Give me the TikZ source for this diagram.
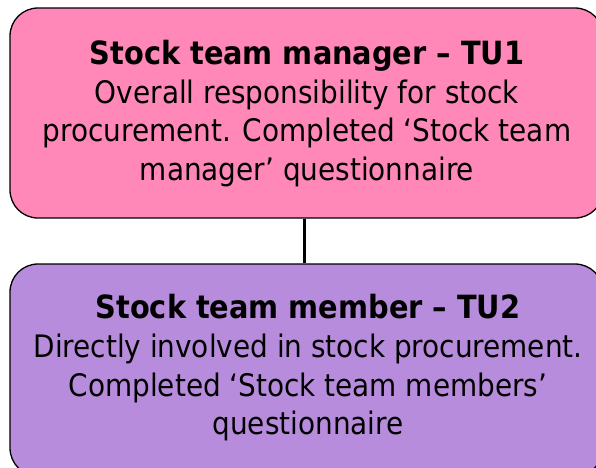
\documentclass[tikz,border=0pt]{standalone}
\usepackage{fontspec}
\setmainfont{DejaVu Sans Condensed}
\usetikzlibrary{positioning}
\definecolor{mgrpink}{RGB}{255,136,185}
\definecolor{mbrlilac}{RGB}{184,140,220}

\begin{document}
\begin{tikzpicture}[x=1pt, y=-1pt,
    unitbox/.style={draw=black, line width=1.3pt, rounded corners=28pt,
                    minimum width=593pt, inner sep=0pt},
    unittext/.style={align=center, font=\fontsize{31}{38.7}\selectfont, inner sep=0pt},
    link/.style={draw=black, line width=3.5pt}]
  \useasboundingbox (0,0) rectangle (596,467);
  \clip (0,0) rectangle (596,467);

  % Boxes
  \node[unitbox, fill=mgrpink, minimum height=210pt] (mgr) at (306.5,113) {};
  \node[unitbox, fill=mbrlilac, minimum height=212pt] (mbr) at (306.5,370) {};

  % Texts
  \node[unittext] (mgrtext) at (307,113.5)
    {{\fontsize{32}{38.7}\selectfont\bfseries Stock team manager -- TU1}\\
     Overall responsibility for stock\\
     procurement. Completed `Stock team\\
     manager' questionnaire};
  \node[unittext] (mbrtext) at (308,368)
    {{\fontsize{32}{38.7}\selectfont\bfseries Stock team member -- TU2}\\
     Directly involved in stock procurement.\\
     Completed `Stock team members'\\
     questionnaire};

  % Connector
  \draw[link] ([xshift=-2pt]mgr.south) -- ([xshift=-2pt]mbr.north);
\end{tikzpicture}
\end{document}
